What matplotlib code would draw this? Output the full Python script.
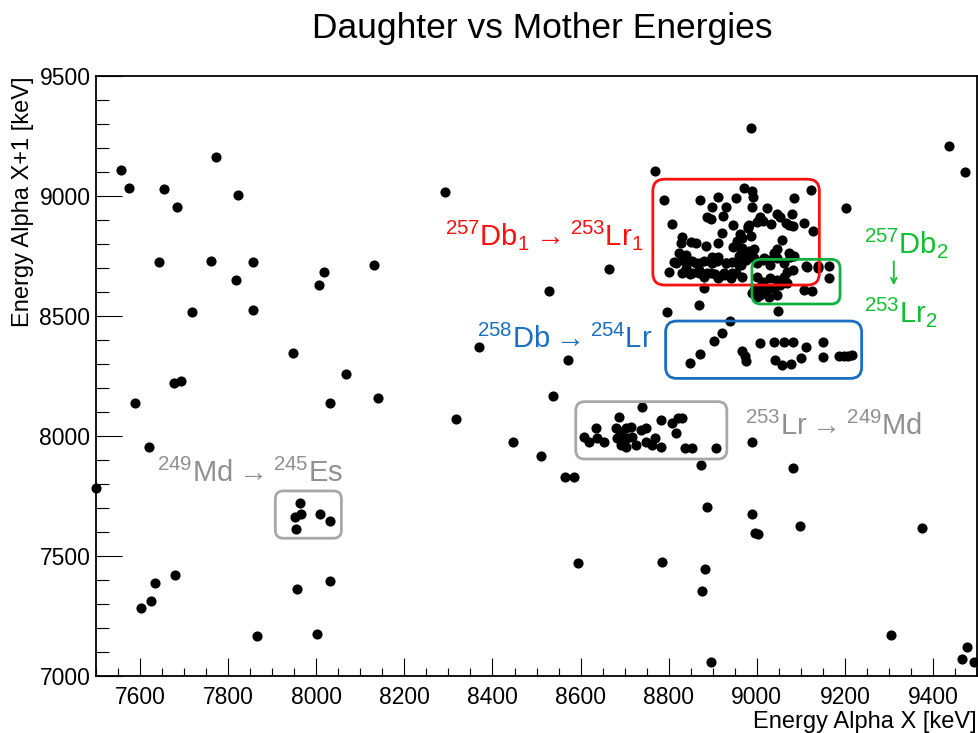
import matplotlib.pyplot as plt
from matplotlib.patches import FancyBboxPatch
from matplotlib.ticker import MultipleLocator

plt.rcParams['font.family'] = ['Liberation Sans', 'DejaVu Sans']

# alpha energies (keV): mother X, daughter X+1
other_x = [7556, 7575, 7655, 7683, 7773, 7823, 7643, 7760, 7857, 7817, 8007, 8017,
           7718, 7857, 7946, 7676, 7693, 7588, 7620, 7501, 7633, 7624, 7601, 7679,
           7956, 7865, 8002, 8030, 8030, 8293, 8130, 8664, 8528, 8369, 8571, 8067,
           8141, 8318, 8446, 8510, 8538, 8564, 8586, 8594, 8986, 8768, 9437, 9473,
           9202, 8796, 8869, 8939, 9048, 8880, 8874, 8989, 9083, 8886, 8990, 8995,
           9002, 9097, 9374, 8784, 8882, 8875, 9305, 8897, 9477, 9465, 9493]
other_y = [9108, 9033, 9028, 8956, 9161, 9003, 8724, 8729, 8724, 8650, 8628, 8682,
           8515, 8524, 8347, 8222, 8228, 8137, 7954, 7785, 7387, 7312, 7285, 7421,
           7361, 7165, 7176, 7394, 8136, 9017, 8714, 8694, 8606, 8369, 8318, 8260,
           8157, 8072, 7974, 7917, 8168, 7828, 7828, 7469, 9285, 9105, 9208, 9101,
           8951, 8515, 8547, 8479, 8522, 8615, 7880, 7974, 7867, 7703, 7674, 7594,
           7590, 7626, 7617, 7476, 7444, 7355, 7171, 7060, 7122, 7071, 7060]

md249_x = [7964, 7952, 7966, 7953, 8008, 8030]
md249_y = [7722, 7661, 7674, 7614, 7675, 7646]

lr253_x = [8608, 8619, 8634, 8638, 8653, 8687, 8680, 8691, 8702, 8714, 8683, 8695,
           8706, 8691, 8702, 8717, 8725, 8738, 8740, 8748, 8748, 8782, 8808, 8820,
           8831, 8816, 8770, 8763, 8782, 8837, 8852, 8908]
lr253_y = [7997, 7976, 8032, 7990, 7976, 8080, 8032, 8018, 8032, 8039, 7990, 7983,
           7990, 7962, 7955, 7997, 7962, 8025, 8122, 8032, 7976, 8067, 8053, 8074,
           8076, 8011, 7990, 7962, 7955, 7951, 7951, 7949]

db258_x = [8848, 8872, 8902, 8920, 8966, 8973, 8976, 9008, 9040, 9061, 9083, 9112,
           9151, 9150, 9042, 9057, 9077, 9100, 9187, 9198, 9208, 9217]
db258_y = [8303, 8343, 8396, 8428, 8354, 8335, 8311, 8386, 8392, 8392, 8392, 8372,
           8390, 8330, 8317, 8296, 8300, 8326, 8335, 8335, 8335, 8338]

db257_1_x = [8789, 8871, 8912, 8952, 8971, 8988, 8992, 9085, 9123, 8899, 8931, 8990,
             9024, 9081, 8886, 8897, 8924, 9047, 9053, 9008, 9000, 8807, 8946, 8980,
             9032, 9066, 9083, 9107, 9128, 8922, 8961, 8967, 8986, 8831, 9058, 8850,
             8861, 8913, 8827, 8884, 8947, 8994, 9047, 8964, 8823, 8839, 9085, 8898,
             8911, 8812, 8801, 8842, 8853, 8868, 8880, 8895, 8910, 8929, 8944, 8959,
             8830, 8849, 8868, 8887, 8906, 8925, 8944, 8816, 8831, 8839, 8854, 8869,
             8880, 8895, 8911, 8926, 8941, 8952, 8967, 8861, 8899, 8930, 8960, 9005,
             9013, 8983, 8979, 9073, 8956, 9039, 9073, 8967, 8983, 8960, 8975, 8994,
             9111, 9138, 8971, 8986, 8964]
db257_1_y = [8983, 8983, 8997, 8990, 9032, 9022, 8997, 8990, 9025, 8953, 8956, 8953,
             8951, 8925, 8914, 8903, 8918, 8925, 8914, 8911, 8893, 8883, 8879, 8876,
             8883, 8886, 8875, 8889, 8854, 8847, 8842, 8824, 8835, 8830, 8817, 8810,
             8803, 8806, 8803, 8793, 8789, 8778, 8778, 8764, 8761, 8754, 8750, 8744,
             8747, 8726, 8685, 8726, 8730, 8722, 8728, 8724, 8730, 8722, 8726, 8724,
             8678, 8676, 8680, 8678, 8676, 8680, 8678, 8720, 8733, 8699, 8678, 8692,
             8664, 8678, 8657, 8671, 8657, 8678, 8664, 8720, 8720, 8720, 8713, 8901,
             8894, 8880, 8867, 8880, 8811, 8762, 8762, 8783, 8772, 8749, 8735, 8742,
             8707, 8707, 8747, 8761, 8713]

db257_2_x = [9016, 9027, 9000, 9015, 9030, 9045, 9061, 9076, 9068, 9083, 9000, 9015,
             9030, 9045, 9061, 9053, 9038, 9023, 9008, 9068, 8994, 9008, 9027, 9045,
             8989, 9001, 9115, 9164, 9163, 9107, 9126, 9138]
db257_2_y = [8742, 8735, 8720, 8733, 8713, 8740, 8720, 8747, 8685, 8692, 8664, 8643,
             8657, 8650, 8664, 8629, 8615, 8608, 8622, 8636, 8608, 8587, 8580, 8587,
             8594, 8580, 8705, 8710, 8657, 8608, 8605, 8698]

fig = plt.figure(figsize=(9.79, 7.33), dpi=100)
fig.set_facecolor('white')
ax = fig.add_axes([0.0981, 0.0778, 0.8999, 0.8185])

for xs, ys in [(other_x, other_y), (md249_x, md249_y), (lr253_x, lr253_y),
               (db258_x, db258_y), (db257_1_x, db257_1_y), (db257_2_x, db257_2_y)]:
    ax.plot(xs, ys, 'o', color='black', markersize=7.3, markeredgewidth=0,
            clip_on=False, zorder=3)

ax.set_xlim(7500, 9500)
ax.set_ylim(7000, 9500)

# rounded selection boxes (x0, y0, x1, y1)
aspect = 0.44 / 0.24
boxes = [((8764, 8629, 9142, 9070), '#ff1010', 27),
         ((8989, 8550, 9189, 8736), '#10b040', 20),
         ((8793, 8240, 9238, 8479), '#1a6fc0', 25),
         ((8589, 7904, 8932, 8143), '#a8a8a8', 20),
         ((7907, 7574, 8057, 7771), '#a8a8a8', 18)]
for (x0, y0, x1, y1), col, r in boxes:
    ax.add_patch(FancyBboxPatch((x0, y0), x1 - x0, y1 - y0,
                                boxstyle='round,pad=0,rounding_size=%d' % r,
                                mutation_aspect=aspect, fill=False,
                                edgecolor=col, linewidth=2.0, zorder=4))

fs = 21
ax.text(8293, 8796, r'$\mathregular{^{257}Db_{1}\rightarrow{}^{253}Lr_{1}}$',
        color='#ff1010', fontsize=fs, va='baseline')
ax.text(8365, 8365, r'$\mathregular{^{258}Db\rightarrow{}^{254}Lr}$',
        color='#1a6fc0', fontsize=fs, va='baseline')
ax.text(9244, 8761, r'$\mathregular{^{257}Db_{2}}$', color='#10c030',
        fontsize=fs, va='baseline')
ax.annotate('', xy=(9311, 8628), xytext=(9311, 8728),
            arrowprops=dict(arrowstyle='->', color='#10c030', lw=1.3,
                            shrinkA=0, shrinkB=0))
ax.text(9244, 8476, r'$\mathregular{^{253}Lr_{2}}$', color='#10c030',
        fontsize=fs, va='baseline')
ax.text(8973, 8004, r'$\mathregular{^{253}Lr\rightarrow{}^{249}Md}$',
        color='#909090', fontsize=fs, va='baseline')
ax.text(7638, 7810, r'$\mathregular{^{249}Md\rightarrow{}^{245}Es}$',
        color='#909090', fontsize=fs, va='baseline')

ax.xaxis.set_major_locator(MultipleLocator(200))
ax.xaxis.set_minor_locator(MultipleLocator(50))
ax.yaxis.set_major_locator(MultipleLocator(500))
ax.yaxis.set_minor_locator(MultipleLocator(100))
ax.tick_params(axis='x', which='major', direction='in', length=12.7, width=0.8,
               labelsize=16.5, pad=7)
ax.tick_params(axis='x', which='minor', direction='in', length=6, width=0.8)
ax.tick_params(axis='y', which='major', direction='in', length=18.5, width=0.8,
               labelsize=16.5, pad=4)
ax.tick_params(axis='y', which='minor', direction='in', length=9.6, width=0.8)
for sp in ax.spines.values():
    sp.set_linewidth(1.3)

ax.set_xlabel('Energy Alpha X [keV]', fontsize=17, loc='right', labelpad=2)
ax.set_ylabel('Energy Alpha X+1 [keV]', fontsize=17, loc='top', labelpad=4)

fig.text(0.554, 0.948, 'Daughter vs Mother Energies', fontsize=25.5,
         ha='center', va='baseline')

plt.savefig('out.png', dpi=100)
